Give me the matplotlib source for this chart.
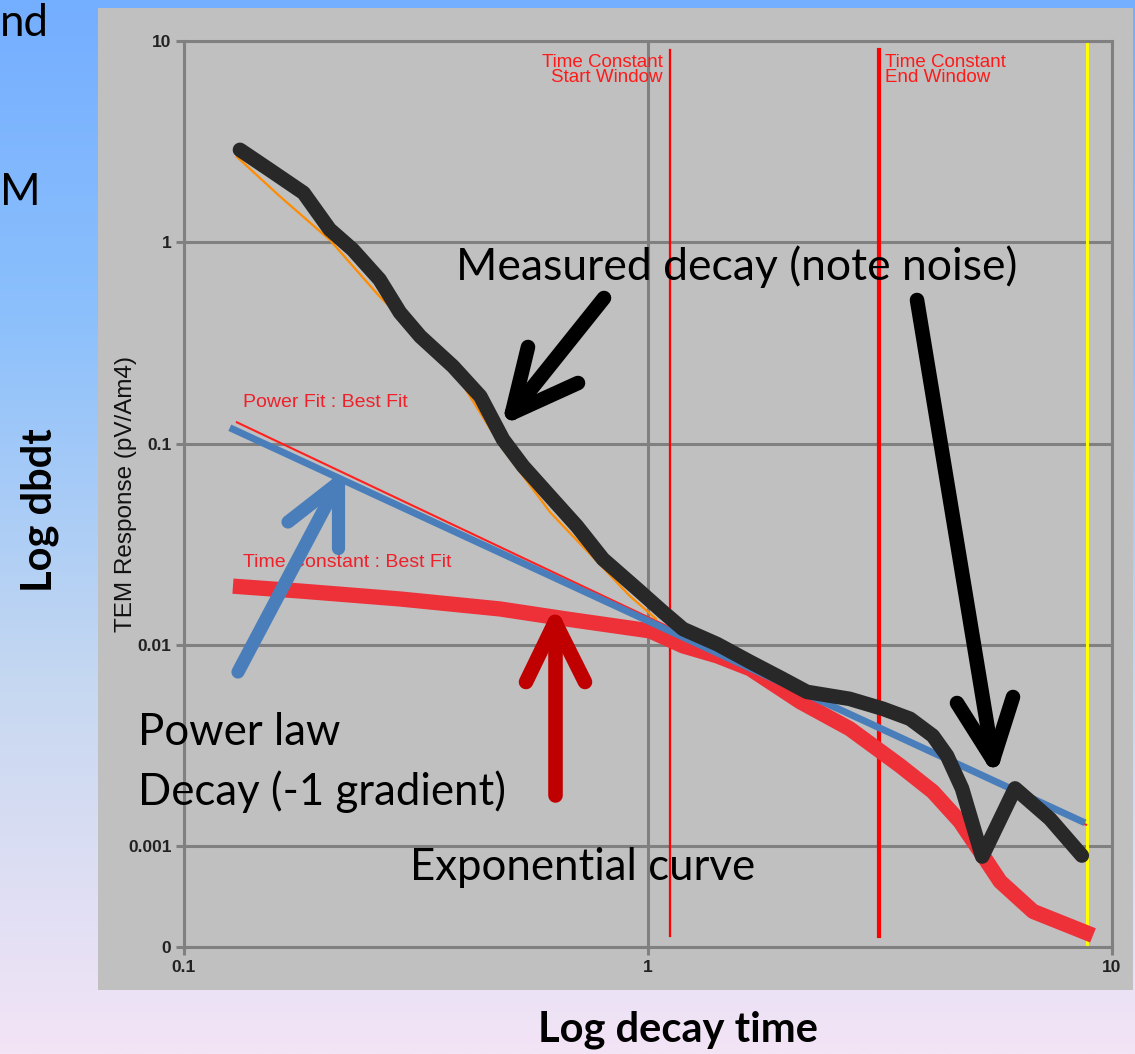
import numpy as np
import matplotlib.pyplot as plt
from matplotlib.patches import Rectangle
from matplotlib.ticker import NullLocator

W, H = 1135, 1054

# measured dB/dt decay (noisy at late time)
measured_t = [0.132, 0.153, 0.181, 0.206, 0.231, 0.264, 0.292, 0.323, 0.380, 0.435,
              0.487, 0.538, 0.615, 0.703, 0.800, 0.947, 1.077, 1.19, 1.41, 1.66,
              1.95, 2.20, 2.72, 3.21, 3.67, 4.11, 4.41, 4.75, 5.25, 6.18, 7.35, 8.61]
measured_v = [2.88, 2.29, 1.76, 1.16, 0.92, 0.653, 0.448, 0.341, 0.242, 0.172,
              0.105, 0.0773, 0.0548, 0.0389, 0.0267, 0.0190, 0.0146, 0.0120, 0.0101, 0.00824,
              0.00679, 0.00585, 0.00540, 0.00482, 0.00430, 0.00354, 0.00282, 0.00194, 0.00089, 0.00194,
              0.00137, 0.00090]

# early time fit (orange)
fit_t = [0.130, 0.161, 0.206, 0.264, 0.380, 0.487, 0.615, 0.914, 1.04]
fit_v = [2.66, 1.69, 1.03, 0.538, 0.234, 0.0938, 0.0457, 0.0175, 0.0135]

# power fit best fit (thin red) and the -1 gradient trend line (blue)
power_t = [0.130, 8.79]
power_v = [0.1277, 0.00128]
trend_t = [0.1275, 8.61]
trend_v = [0.118, 0.00133]

# time constant best fit (exponential)
expo_t = [0.1275, 0.178, 0.292, 0.480, 0.668, 1.01, 1.19, 1.41, 1.66, 2.13,
          2.72, 3.49, 4.11, 4.70, 5.27, 5.74, 6.76, 8.66, 9.10]
expo_v = [0.0196, 0.01854, 0.01693, 0.0151, 0.01346, 0.01175, 0.0099, 0.00883, 0.00762, 0.00522,
          0.00384, 0.00252, 0.00187, 0.00133, 0.00090, 0.000669, 0.000475, 0.000378, 0.000361]

window_start = 1.115
window_end = 3.15
cutoff_t = 8.84

yticks = [10 ** -3.5, 0.001, 0.01, 0.1, 1, 10]
ylabels = ["0", "0.001", "0.01", "0.1", "1", "10"]
xticks = [0.1, 1, 10]
xlabels = ["0.1", "1", "10"]

fig = plt.figure(figsize=(W / 100, H / 100), dpi=100)

# slide background gradient
bg = fig.add_axes([0, 0, 1, 1], zorder=-2)
stops = np.array([0.0, 0.3, 0.65, 1.0])
cols = np.array([[116, 174, 255], [140, 192, 252], [198, 216, 241], [243, 228, 246]]) / 255
yy = np.linspace(0, 1, 400)
grad = np.stack([np.interp(yy, stops, cols[:, k]) for k in range(3)], axis=1)
bg.imshow(grad[:, None, :], aspect="auto", extent=[0, 1, 1, 0])
bg.set_xlim(0, 1)
bg.set_ylim(1, 0)
bg.axis("off")

# grey chart panel
fig.patches.append(Rectangle((98 / W, 1 - 990 / H), (1133 - 98) / W, (990 - 8) / H,
                             transform=fig.transFigure, fc="#c0c0c0", ec="none", zorder=-1))

ax = fig.add_axes([184 / W, 1 - 947 / H, 928 / W, 906 / H], zorder=1)
ax.set_facecolor("#c0c0c0")
ax.set_xscale("log")
ax.set_yscale("log")
ax.set_xlim(0.1, 10)
ax.set_ylim(10 ** -3.5, 10)
ax.set_yticks(yticks)
ax.set_yticklabels(ylabels)
ax.set_xticks(xticks)
ax.set_xticklabels(xlabels)
ax.xaxis.set_minor_locator(NullLocator())
ax.yaxis.set_minor_locator(NullLocator())
gc = "#808080"
ax.grid(True, color=gc, lw=2.2, zorder=0)
ax.set_axisbelow(True)
for s in ax.spines.values():
    s.set_color(gc)
    s.set_linewidth(2.2)
ax.tick_params(length=6, width=2.2, color=gc, pad=3, labelsize=12.5,
               labelcolor="#222222")
for lab in ax.get_xticklabels() + ax.get_yticklabels():
    lab.set_fontfamily("Liberation Sans")
    lab.set_fontweight("bold")
ax.text(-0.0625, 0.5, "TEM Response (pV/Am4)", transform=ax.transAxes, rotation=90,
        ha="center", va="center", fontsize=17.5, family="Liberation Sans", color="#111111")

# window markers
ax.plot([window_start, window_start], [9.0, 0.000357], color="#ff0000", lw=1.6, zorder=2)
ax.plot([window_end, window_end], [9.0, 0.000357], color="#ff0000", lw=3.0, zorder=2)
ax.axvline(cutoff_t, color="#ffff00", lw=2.2, zorder=2)

ax.annotate("Time Constant\nStart Window", xy=(window_start, 9.0), xytext=(-5, -3),
            textcoords="offset points", ha="right", va="top", fontsize=13.5,
            family="Liberation Sans", color="#ff1a1a", linespacing=0.78)
ax.annotate("Time Constant\nEnd Window", xy=(window_end, 9.0), xytext=(4, -3),
            textcoords="offset points", ha="left", va="top", fontsize=13.5,
            family="Liberation Sans", color="#ff1a1a", linespacing=0.78)

# curves
ax.plot(expo_t, expo_v, color="#ee3038", lw=11, solid_capstyle="butt",
        solid_joinstyle="round", zorder=3)
ax.plot(power_t, power_v, color="#ff2020", lw=1.5, zorder=4)
ax.plot(trend_t, trend_v, color="#4a7ebb", lw=5, zorder=5)
ax.plot(fit_t, fit_v, color="#ff8c00", lw=1.6, zorder=5)
ax.plot(measured_t, measured_v, color="#282828", lw=10.5, solid_capstyle="round",
        solid_joinstyle="round", zorder=6)

ax.text(0.134, 0.160, "Power Fit : Best Fit", fontsize=14, family="Liberation Sans",
        color="#f0202a", va="center", zorder=4)
ax.text(0.134, 0.0258, "Time Constant : Best Fit", fontsize=14, family="Liberation Sans",
        color="#f0202a", va="center", zorder=4)

# slide annotations on top, in pixel coordinates
ov = fig.add_axes([0, 0, 1, 1], zorder=3)
ov.patch.set_alpha(0)
ov.set_xlim(0, W)
ov.set_ylim(H, 0)
ov.axis("off")


def arrow(tail, tip, arms, color, lw):
    ov.plot([tail[0], tip[0]], [tail[1], tip[1]], color=color, lw=lw, solid_capstyle="round")
    for a in arms:
        ov.plot([a[0], tip[0]], [a[1], tip[1]], color=color, lw=lw, solid_capstyle="round")


arrow((604, 298), (512, 413), [(528, 347), (578, 383)], "black", 10.5)
arrow((917, 300), (993, 760), [(957, 703), (1013, 697)], "black", 10.5)
arrow((238, 672), (338, 483), [(288, 522), (338, 548)], "#4a7ebb", 9.5)
arrow((555, 795), (555, 622), [(526, 682), (585, 682)], "#c00000", 10.5)

sf = "Lato"
ov.text(456, 280, "Measured decay (note noise)", fontsize=32, family=sf, va="baseline")
ov.text(138, 745, "Power law", fontsize=31.5, family=sf, va="baseline")
ov.text(138, 805, "Decay (-1 gradient)", fontsize=31.5, family=sf, va="baseline")
ov.text(410, 880, "Exponential curve", fontsize=31.5, family=sf, va="baseline")
ov.text(0, 36, "nd", fontsize=31.5, family=sf, va="baseline")
ov.text(0, 205, "M", fontsize=31.5, family=sf, va="baseline")
ov.text(40, 510, "Log dbdt", fontsize=30, family=sf, weight="bold", rotation=90,
        ha="center", va="center")
ov.text(678, 1030, "Log decay time", fontsize=30, family=sf, weight="bold",
        ha="center", va="center")

fig.savefig("out.png", dpi=100)
